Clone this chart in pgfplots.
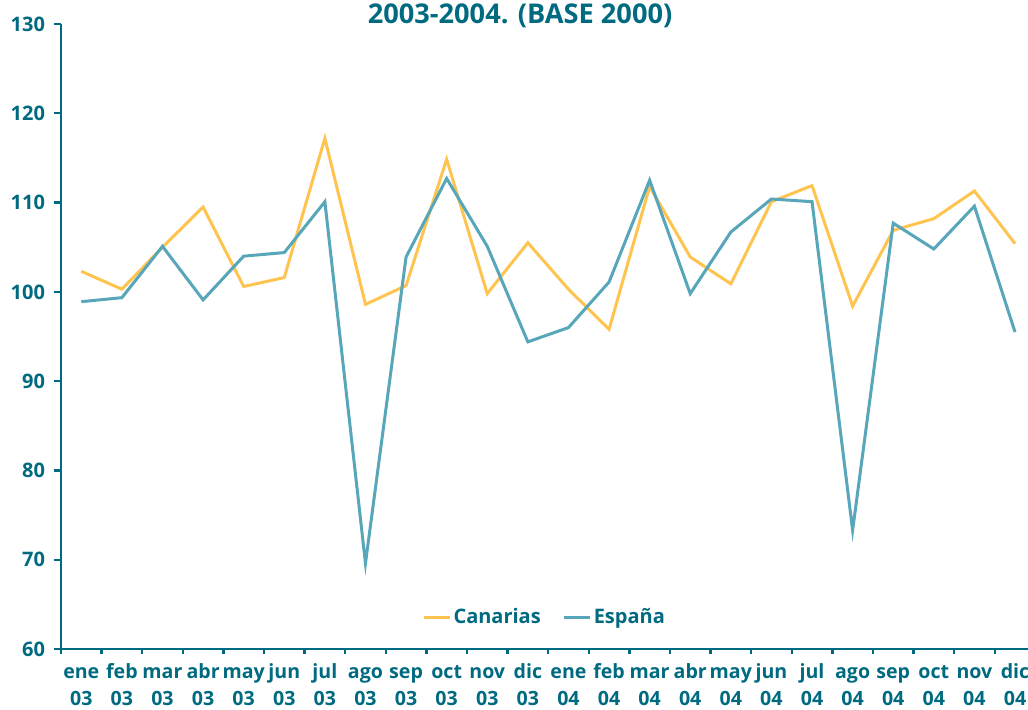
\documentclass[border=0pt]{standalone}
\usepackage{pgfplots}
\pgfplotsset{compat=1.18}
\usepackage{fontspec}
\setmainfont{Open Sans}
\definecolor{tealtxt}{HTML}{006A80}
\definecolor{canyel}{HTML}{FFC450}
\definecolor{espblue}{HTML}{58A6BA}
\newcommand{\xl}[2]{\strut #1\\\vphantom{0}#2}
\begin{document}
\begin{tikzpicture}[x=1pt,y=1pt]
\useasboundingbox (0,0) rectangle (514,354.5);
\begin{axis}[
  at={(30.5pt,30pt)}, anchor=south west,
  scale only axis, width=483.7pt, height=312.5pt,
  xmin=-0.5, xmax=23.33, ymin=60, ymax=130,
  axis x line=bottom, axis y line=left,
  axis line style={-, draw=tealtxt, line width=1.4pt},
  ytick={60,70,...,130},
  xtick={0,...,23},
  xticklabels={{\xl{ene}{03}},{\xl{feb}{03}},{\xl{mar}{03}},{\xl{abr}{03}},{\xl{may}{03}},{\xl{jun}{03}},{\xl{jul}{03}},{\xl{ago}{03}},{\xl{sep}{03}},{\xl{oct}{03}},{\xl{nov}{03}},{\xl{dic}{03}},{\xl{ene}{04}},{\xl{feb}{04}},{\xl{mar}{04}},{\xl{abr}{04}},{\xl{may}{04}},{\xl{jun}{04}},{\xl{jul}{04}},{\xl{ago}{04}},{\xl{sep}{04}},{\xl{oct}{04}},{\xl{nov}{04}},{\xl{dic}{04}}},
  minor xtick={-0.5,0.5,...,22.5},
  tick align=outside,
  major x tick style={draw=none},
  major y tick style={draw=tealtxt, line width=1.2pt},
  minor x tick style={draw=tealtxt, line width=1.2pt},
  major tick length=3.5pt, minor tick length=2.5pt,
  /pgf/number format/assume math mode=true,
  tick label style={font=\fontsize{10}{13.5}\selectfont\bfseries, text=tealtxt},
  xticklabel style={align=center, yshift=-1.2pt, inner sep=0.5pt, font=\fontsize{9.8}{13.4}\selectfont\bfseries},
  yticklabel style={xshift=-1pt},
  legend style={at={(0.500,0.051)}, anchor=center, draw=none, fill=none,
    font=\fontsize{10}{12}\selectfont\bfseries, text=tealtxt,
    nodes={inner xsep=1pt},
    /tikz/every even column/.append style={column sep=10pt}},
  legend columns=2,
  legend image code/.code={\draw[#1] (0pt,0pt) -- (13pt,0pt);},
  clip=false,
]
\addplot[canyel, line width=1.5pt] coordinates {
(0,102.3) (1,100.3) (2,105.0) (3,109.5) (4,100.6) (5,101.6) (6,117.2) (7,98.6)
(8,100.7) (9,114.85) (10,99.8) (11,105.5) (12,100.3) (13,95.8) (14,111.8) (15,103.9)
(16,100.9) (17,110.1) (18,111.9) (19,98.4) (20,106.9) (21,108.2) (22,111.3) (23,105.4)};
\addlegendentry{Canarias}
\addplot[espblue, line width=1.5pt] coordinates {
(0,98.9) (1,99.35) (2,105.1) (3,99.1) (4,104.0) (5,104.4) (6,110.1) (7,69.6)
(8,103.9) (9,112.7) (10,105.1) (11,94.4) (12,96.0) (13,101.1) (14,112.5) (15,99.8)
(16,106.7) (17,110.4) (18,110.1) (19,73.3) (20,107.7) (21,104.8) (22,109.6) (23,95.5)};
\addlegendentry{España}
\end{axis}
\node[font=\fontsize{13.6}{15}\selectfont\bfseries, text=tealtxt] at (260,346.5) {2003-2004. (BASE 2000)};
\end{tikzpicture}
\end{document}
